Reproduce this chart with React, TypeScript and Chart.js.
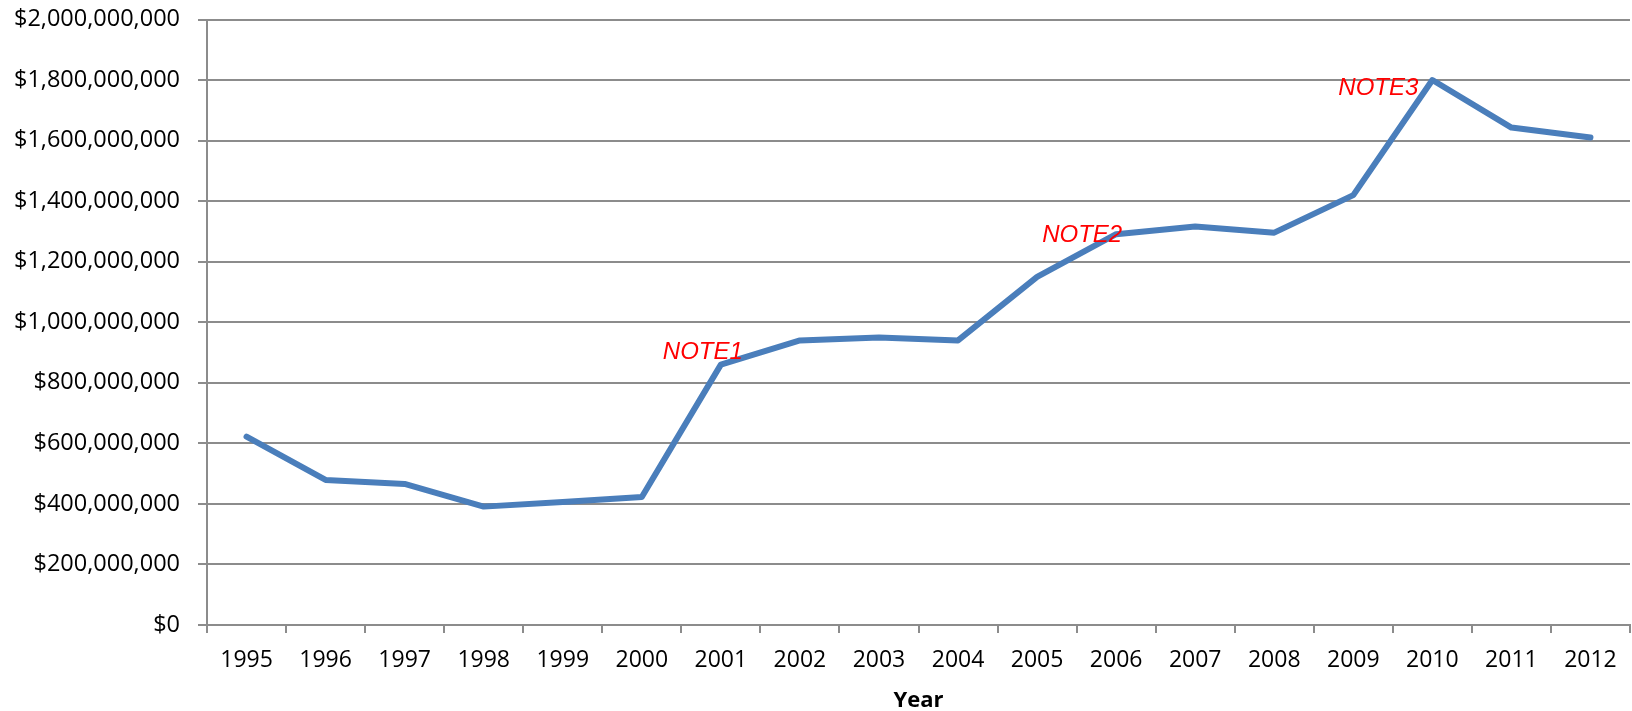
import React, { useEffect, useRef } from "react";
import { Chart, registerables } from "chart.js";

Chart.register(...registerables);

const years: string[] = [
  "1995", "1996", "1997", "1998", "1999", "2000", "2001", "2002", "2003",
  "2004", "2005", "2006", "2007", "2008", "2009", "2010", "2011", "2012",
];

const values: number[] = [
  622e6, 479e6, 466e6, 391e6, 406e6, 423e6, 860e6, 940e6, 950e6,
  940e6, 1150e6, 1291e6, 1316e6, 1296e6, 1420e6, 1800e6, 1643e6, 1610e6,
];

const noteLabels: string[] = ["NOTE1", "NOTE2", "NOTE3"];
const noteYears: string[] = ["2001", "2006", "2010"];

const yTickMin = 0;
const yTickMax = 2000000000;
const yTickStep = 200000000;

const xTitle = "Year";

const FONT = "'Open Sans', 'Liberation Sans', sans-serif";

const notesPlugin = {
  id: "notes",
  afterDatasetsDraw(chart: any) {
    const { ctx, scales } = chart;
    const offsets = [
      [-18, -12],
      [-34, 1],
      [-54, 8],
    ];
    ctx.save();
    ctx.font = "italic 24px 'Liberation Sans', Arial, sans-serif";
    ctx.fillStyle = "#ff0000";
    ctx.textAlign = "center";
    ctx.textBaseline = "middle";
    noteLabels.forEach((label, i) => {
      const idx = years.indexOf(noteYears[i]);
      const x = scales.x.getPixelForValue(idx) + offsets[i][0];
      const y = scales.y.getPixelForValue(values[idx]) + offsets[i][1];
      ctx.fillText(label, x, y);
    });
    ctx.restore();
  },
};

export default function App() {
  const canvasRef = useRef<HTMLCanvasElement | null>(null);

  useEffect(() => {
    if (!canvasRef.current) return;
    const gridColor = "#8c8c8c";
    const chart = new Chart(canvasRef.current, {
      type: "line",
      data: {
        labels: years,
        datasets: [
          {
            data: values,
            borderColor: "#4a7ebb",
            borderWidth: 6,
            borderCapStyle: "round",
            borderJoinStyle: "round",
            pointRadius: 0,
            tension: 0,
            fill: false,
          },
        ],
      },
      options: {
        animation: false,
        responsive: false,
        layout: { padding: { top: 19.5, right: 2, left: 0, bottom: 0 } },
        plugins: {
          legend: { display: false },
          tooltip: { enabled: false },
        },
        scales: {
          x: {
            offset: true,
            grid: {
              offset: true,
              drawOnChartArea: false,
              drawTicks: true,
              tickLength: 8,
              color: gridColor,
              lineWidth: 2,
            },
            border: { display: true, color: gridColor, width: 2 },
            ticks: {
              color: "#000",
              font: { family: FONT, size: 23 },
              padding: 14,
              maxRotation: 0,
              autoSkip: false,
            },
            title: {
              display: true,
              text: xTitle,
              color: "#000",
              font: { family: FONT, size: 22, weight: "bold" },
              padding: { top: 0, bottom: -3 },
            },
            afterFit(scale: any) {
              scale.height = 86;
            },
          },
          y: {
            min: yTickMin,
            max: yTickMax,
            grid: {
              color: gridColor,
              lineWidth: 2,
              tickLength: 9,
            },
            border: { display: true, color: gridColor, width: 2 },
            ticks: {
              stepSize: yTickStep,
              color: "#000",
              font: { family: FONT, size: 23.5 },
              padding: 18,
              callback: (v: any) => "$" + Number(v).toLocaleString("en-US"),
            },
            afterFit(scale: any) {
              scale.width = 207;
              scale.paddingTop = 0;
              scale.paddingBottom = 0;
            },
          },
        },
      },
      plugins: [notesPlugin],
    } as any);
    return () => chart.destroy();
  }, []);

  return (
    <div style={{ position: "fixed", left: 0, top: 0, width: 1632, height: 711, background: "#fff" }}>
      <canvas ref={canvasRef} width={1632} height={711} />
    </div>
  );
}
